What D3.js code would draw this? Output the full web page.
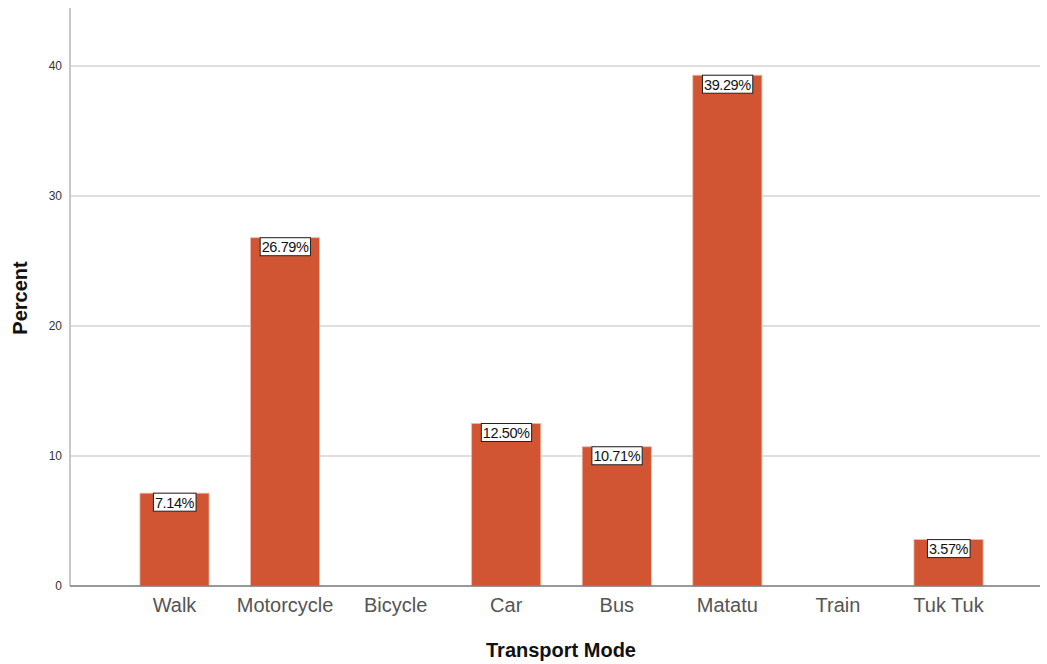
<!DOCTYPE html>
<html>
<head>
<meta charset="utf-8">
<script src="https://cdn.jsdelivr.net/npm/d3@7"></script>
<style>
  html, body { margin: 0; padding: 0; background: #fff; }
  svg { display: block; }
</style>
</head>
<body>
<svg id="chart" width="1047" height="664"></svg>
<script>
// Share of respondents by main transport mode
const categories = ["Walk", "Motorcycle", "Bicycle", "Car", "Bus", "Matatu", "Train", "Tuk Tuk"];
const percents   = [7.14, 26.79, 0, 12.50, 10.71, 39.29, 0, 3.57];
const yTicks     = [0, 10, 20, 30, 40];

const svg = d3.select("#chart");
const axisX = 70, plotTop = 8, baseY = 586, plotRight = 1040;

const y = d3.scaleLinear().domain([0, 44.46]).range([baseY, plotTop]);
const x = d3.scaleBand().domain(categories)
  .range([119.2, 1003.8]).paddingInner(0.375).paddingOuter(0.1875);

const font = "'Liberation Sans', Arial, sans-serif";

// horizontal grid lines
svg.append("g").selectAll("line").data(yTicks.filter(d => d > 0)).join("line")
  .attr("x1", axisX).attr("x2", plotRight)
  .attr("y1", d => y(d)).attr("y2", d => y(d))
  .attr("stroke", "#d4d4d4").attr("stroke-width", 1.5);

// y axis
const yAxis = svg.append("g").attr("transform", `translate(${axisX},0)`)
  .call(d3.axisLeft(y).tickValues(yTicks).tickSize(0).tickPadding(8));
yAxis.select(".domain").remove();
yAxis.selectAll("text").attr("font-family", font).attr("font-size", 12).attr("fill", "#333");
svg.append("line").attr("x1", axisX).attr("x2", axisX).attr("y1", plotTop).attr("y2", baseY)
  .attr("stroke", "#c8c8c8").attr("stroke-width", 2);

// bars
const data = categories.map((c, i) => ({ c, v: percents[i] }));
svg.append("g").selectAll("rect").data(data.filter(d => d.v > 0)).join("rect")
  .attr("x", d => x(d.c)).attr("width", x.bandwidth())
  .attr("y", d => y(d.v)).attr("height", d => y(0) - y(d.v))
  .attr("fill", "#d15433").attr("stroke", "#f0b7a6").attr("stroke-width", 0.8);

// x axis baseline
svg.append("line").attr("x1", axisX).attr("x2", plotRight).attr("y1", baseY).attr("y2", baseY)
  .attr("stroke", "#777").attr("stroke-width", 1.5);

// x axis labels
const xAxis = svg.append("g").attr("transform", `translate(0,${baseY})`)
  .call(d3.axisBottom(x).tickSize(0).tickPadding(12));
xAxis.select(".domain").remove();
xAxis.selectAll("text").attr("font-family", font).attr("font-size", 20).attr("fill", "#555");

// value labels in boxes at bar tops
const lab = svg.append("g").selectAll("g").data(data.filter(d => d.v > 0)).join("g")
  .attr("transform", d => `translate(${x(d.c) + x.bandwidth() / 2},${y(d.v)})`);
lab.append("text")
  .attr("text-anchor", "middle").attr("y", 14.5)
  .attr("font-family", font).attr("font-size", 14.5).attr("fill", "#111")
  .attr("letter-spacing", -0.4)
  .text(d => d.v.toFixed(2) + "%");
lab.each(function () {
  const g = d3.select(this);
  const bb = g.select("text").node().getBBox();
  g.insert("rect", "text")
    .attr("x", bb.x - 1.5).attr("y", 0)
    .attr("width", bb.width + 3).attr("height", 18)
    .attr("fill", "#fff").attr("stroke", "#222").attr("stroke-width", 1);
});

// axis titles
svg.append("text").attr("x", 561).attr("y", 657).attr("text-anchor", "middle")
  .attr("font-family", font).attr("font-weight", "bold").attr("font-size", 20).attr("fill", "#111")
  .text("Transport Mode");
svg.append("text").attr("transform", "translate(27,298) rotate(-90)").attr("text-anchor", "middle")
  .attr("font-family", font).attr("font-weight", "bold").attr("font-size", 20).attr("fill", "#111")
  .text("Percent");
</script>
</body>
</html>
